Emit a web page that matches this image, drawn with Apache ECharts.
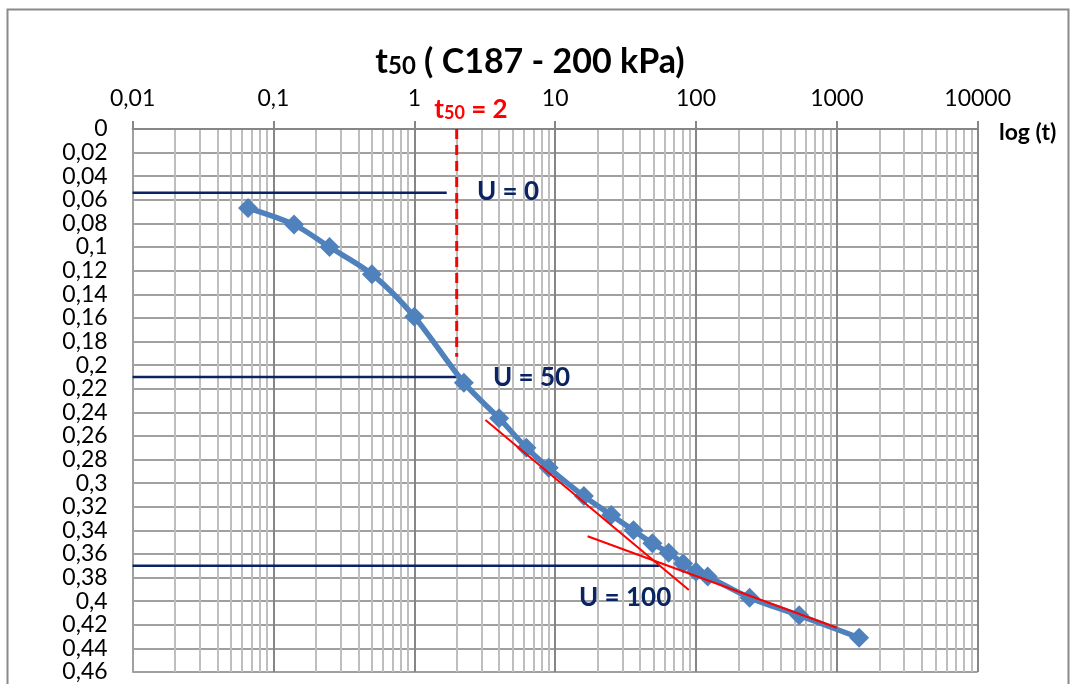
<!DOCTYPE html>
<html>
<head>
<meta charset="utf-8">
<title>t50 ( C187 - 200 kPa)</title>
<script src="https://cdn.jsdelivr.net/npm/echarts@6/dist/echarts.min.js"></script>
<style>
  html, body { margin: 0; padding: 0; background: #ffffff; }
  #chart { width: 1077px; height: 684px; }
</style>
</head>
<body>
<div id="chart"></div>
<script>
// Elapsed time (min) and dial reading of the consolidation stage
const timeMin = [0.066, 0.14, 0.25, 0.5, 1, 2.25, 4, 6.25, 9, 16, 25, 36, 49, 64, 81, 100, 121, 240, 540, 1440];
const reading = [0.067, 0.081, 0.100, 0.123, 0.159, 0.215, 0.245, 0.270, 0.287, 0.311, 0.327, 0.340, 0.351, 0.359, 0.368, 0.375, 0.379, 0.397, 0.412, 0.431];

// Casagrande construction
const t50 = 2;
const u0Level = 0.054;
const u50Level = 0.21;
const u100Level = 0.37;
const u0End = 1.7;
const u100End = 55;
const t50Bottom = 0.193;
const primaryTangent = [[3.2, 0.2465], [89, 0.3905]];
const secondaryTangent = [[17, 0.345], [1000, 0.4225]];

// Axis ranges
const xMin = 0.01, xMax = 10000;
const yMin = 0, yMax = 0.46, yStep = 0.02;
const decades = [0.01, 0.1, 1, 10, 100, 1000];
const minorSteps = [2, 3, 4, 5, 6, 7, 8, 9];

const FONT = 'Lato, "Open Sans", sans-serif';
const NAVY = '#0A2463';
const RED = '#FF0000';
const BLUE = '#4F81BD';

const fmtComma = v => String(Number(Number(v).toPrecision(6))).replace('.', ',');

const minorLines = [];
decades.forEach(d => minorSteps.forEach(m => minorLines.push({ xAxis: Number((d * m).toPrecision(6)) })));

const curve = timeMin.map((t, i) => [t, reading[i]]);

const chart = echarts.init(document.getElementById('chart'), null, { renderer: 'canvas' });

chart.setOption({
  backgroundColor: '#ffffff',
  animation: false,
  textStyle: { fontFamily: FONT },
  grid: { left: 132.6, right: 99.3, top: 129, bottom: 12, containLabel: false },
  xAxis: {
    type: 'log',
    logBase: 10,
    position: 'top',
    min: xMin,
    max: xMax,
    splitNumber: 6,
    axisLine: { show: true, onZero: false, lineStyle: { color: '#868686', width: 2 } },
    axisTick: { show: true, inside: false, length: 8, lineStyle: { color: '#868686', width: 2 } },
    axisLabel: {
      show: true, margin: 19, fontSize: 23, color: '#000000', fontFamily: FONT,
      formatter: v => fmtComma(v)
    },
    splitLine: { show: true, lineStyle: { color: '#868686', width: 2 } },
    minorTick: { show: false },
    minorSplitLine: { show: false }
  },
  yAxis: {
    type: 'value',
    inverse: true,
    min: yMin,
    max: yMax,
    interval: yStep,
    axisLine: { show: true, onZero: false, lineStyle: { color: '#A0A0A0', width: 2 } },
    axisTick: { show: false },
    axisLabel: {
      show: true, margin: 25, fontSize: 23, color: '#000000', fontFamily: FONT,
      formatter: v => fmtComma(v.toFixed(2))
    },
    splitLine: { show: true, lineStyle: { color: '#A0A0A0', width: 2 } }
  },
  series: [
    {
      name: 'minor grid',
      type: 'line',
      data: [],
      silent: true,
      z: 0,
      markLine: {
        z: 0,
        silent: true,
        symbol: ['none', 'none'],
        label: { show: false },
        animation: false,
        lineStyle: { color: '#BEBEBE', width: 2, type: 'solid' },
        data: minorLines
      }
    },
    {
      name: 'U = 0',
      type: 'line',
      data: [[xMin, u0Level], [u0End, u0Level]],
      symbol: 'none',
      lineStyle: { color: NAVY, width: 2.5 },
      z: 3
    },
    {
      name: 'U = 50',
      type: 'line',
      data: [[xMin, u50Level], [t50, u50Level]],
      symbol: 'none',
      lineStyle: { color: NAVY, width: 2.5 },
      z: 3
    },
    {
      name: 'U = 100',
      type: 'line',
      data: [[xMin, u100Level], [u100End, u100Level]],
      symbol: 'none',
      lineStyle: { color: NAVY, width: 2.5 },
      z: 3
    },
    {
      name: 't50',
      type: 'line',
      data: [[t50, yMin], [t50, t50Bottom]],
      symbol: 'none',
      lineStyle: { color: RED, width: 3, type: [10, 6] },
      z: 4
    },
    {
      name: 'settlement',
      type: 'line',
      data: curve,
      smooth: 0.3,
      symbol: 'diamond',
      symbolSize: 20,
      itemStyle: { color: BLUE },
      lineStyle: { color: BLUE, width: 5.5 },
      z: 5
    },
    {
      name: 'tangent 1',
      type: 'line',
      data: primaryTangent,
      symbol: 'none',
      lineStyle: { color: RED, width: 2 },
      z: 6
    },
    {
      name: 'tangent 2',
      type: 'line',
      data: secondaryTangent,
      symbol: 'none',
      lineStyle: { color: RED, width: 2 },
      z: 6
    }
  ],
  graphic: [
    {
      type: 'rect',
      shape: { x: 7.5, y: 9.5, width: 1061, height: 720 },
      style: { fill: 'none', stroke: '#8A8A8A', lineWidth: 2 },
      silent: true,
      z: -10
    },
    {
      type: 'text',
      x: 530, y: 62, z: 100,
      style: {
        text: '{t|t}{s|50}{t| ( C187 - 200 kPa)}',
        align: 'center', verticalAlign: 'middle',
        rich: {
          t: { fontFamily: FONT, fontWeight: 'bold', fontSize: 34, fill: '#000000', verticalAlign: 'bottom' },
          s: { fontFamily: FONT, fontWeight: 'bold', fontSize: 24, fill: '#000000', verticalAlign: 'bottom', padding: [0, 0, 1, 0] }
        }
      }
    },
    {
      type: 'text',
      x: 999, y: 133, z: 100,
      style: { text: 'log (t)', fontFamily: FONT, fontWeight: 'bold', fontSize: 23, fill: '#000000', align: 'left', verticalAlign: 'middle' }
    },
    {
      type: 'text',
      x: 471, y: 110, z: 100,
      style: {
        text: '{t|t}{s|50}{t| = 2}',
        align: 'center', verticalAlign: 'middle',
        rich: {
          t: { fontFamily: FONT, fontWeight: 'bold', fontSize: 26, fill: RED, verticalAlign: 'bottom' },
          s: { fontFamily: FONT, fontWeight: 'bold', fontSize: 18, fill: RED, verticalAlign: 'bottom', padding: [0, 0, 1, 0] }
        }
      }
    },
    {
      type: 'text',
      x: 477, y: 192, z: 100,
      style: { text: 'U = 0', fontFamily: FONT, fontWeight: 'bold', fontSize: 26, fill: NAVY, align: 'left', verticalAlign: 'middle' }
    },
    {
      type: 'text',
      x: 493, y: 378, z: 100,
      style: { text: 'U = 50', fontFamily: FONT, fontWeight: 'bold', fontSize: 26, fill: NAVY, align: 'left', verticalAlign: 'middle' }
    },
    {
      type: 'text',
      x: 579, y: 598, z: 100,
      style: { text: 'U = 100', fontFamily: FONT, fontWeight: 'bold', fontSize: 26, fill: NAVY, align: 'left', verticalAlign: 'middle' }
    }
  ]
});
</script>
</body>
</html>
